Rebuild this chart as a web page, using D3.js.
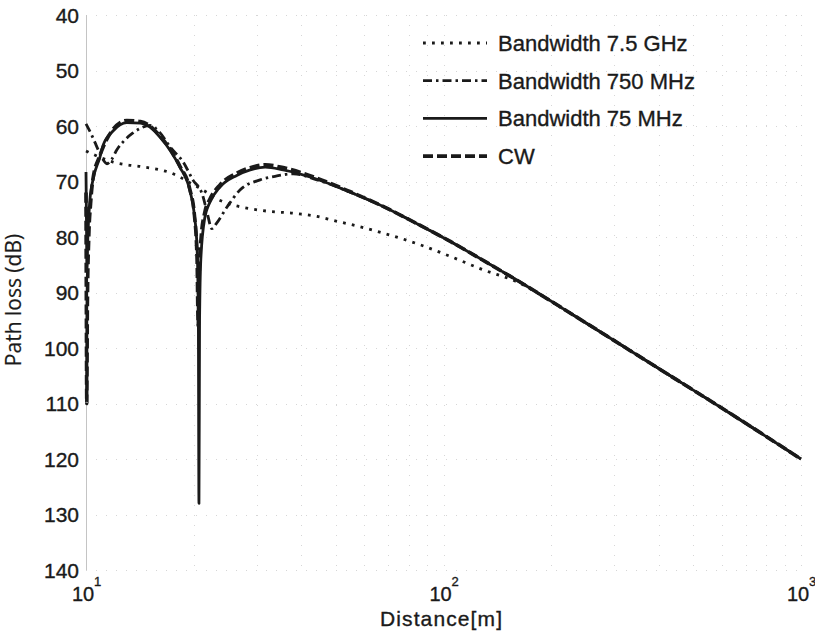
<!DOCTYPE html>
<html>
<head>
<meta charset="utf-8">
<script src="https://cdn.jsdelivr.net/npm/d3@7"></script>
<style>
  body { margin: 0; background: #fff; }
  svg { display: block; font-family: "Liberation Sans", Arial, sans-serif; }
  .lbl { fill: #1a1a1a; stroke: #1a1a1a; stroke-width: 0.35px; }
</style>
</head>
<body>
<div id="chart"></div>
<script>
// path loss vs distance, two-ray style curves for several bandwidths
const SERIES = ["Bandwidth 7.5 GHz", "Bandwidth 750 MHz", "Bandwidth 75 MHz", "CW"];
const Y_TICKS = [40, 50, 60, 70, 80, 90, 100, 110, 120, 130, 140];
const X_DECADES = [1, 2, 3];

const dist7g5 = [10, 10.9, 11.9, 13, 14.2, 16.1, 17.2, 18.3, 19.5, 20.8, 21.8, 23, 24.8, 28.8, 32.7, 37.9, 44.3, 49.1, 54.7, 67.8, 84.3, 104.5, 129, 160.6, 200, 230, 400, 600, 1000];
const loss7g5 = [64.5, 65.6, 66.5, 67, 67.3, 67.9, 68.4, 69.2, 70.2, 71.2, 72, 73, 73.9, 74.9, 75.4, 75.7, 76.3, 77, 77.7, 79.3, 81.2, 83.5, 85.9, 88.1, 91.6, 94.0, 103.7, 110.8, 120];

const dist750 = [10, 10.35, 10.6, 10.8, 11.1, 11.45, 11.8, 12.2, 12.85, 13.5, 14.2, 15.1, 16.1, 17.2, 18.7, 19.9, 21.2, 21.8, 22.5, 23.2, 24.8, 27, 30.7, 34.2, 38, 44.3, 54.7, 67.8, 84.3, 104.5, 129, 160.6, 230, 400, 600, 1000];
const loss750 = [59.6, 61.5, 63, 64.2, 65.8, 66.8, 66, 64.3, 62.5, 61.3, 60.4, 59.9, 61.2, 63.8, 66.5, 69.7, 72.5, 75.5, 78.5, 77.5, 74.6, 71.5, 69.7, 69, 68.6, 69.7, 71.9, 74.5, 77.6, 80.8, 84.2, 87.8, 94.0, 103.7, 110.8, 120];

const dist75 = [10, 10.03, 10.06, 10.12, 10.25, 10.46, 10.94, 11.16, 11.9, 13, 14.2, 15.1, 16.1, 17.2, 18.3, 19.5, 20.1, 20.45, 20.62, 20.7, 20.78, 20.95, 21.5, 22.2, 23.7, 26.4, 28.8, 31.7, 35.6, 44.3, 54.7, 67.8, 84.3, 104.5, 129, 160.6, 230, 400, 600, 1000];
const loss75 = [68.3, 77, 86, 80, 73.5, 69.7, 65.6, 63.5, 60.9, 59.4, 59.5, 60.2, 62, 64.4, 67.4, 71.5, 76, 82, 95, 128, 95, 84, 76.5, 73.8, 71, 68.9, 67.9, 67.4, 67.9, 69.6, 71.9, 74.5, 77.6, 80.8, 84.2, 87.8, 94.0, 103.7, 110.8, 120];

const distCW = [10, 10.02, 10.05, 10.09, 10.18, 10.3, 10.46, 10.94, 11.9, 13, 14.2, 15.1, 16.1, 17.2, 18.3, 19.5, 20.1, 20.45, 20.6, 20.75, 21, 21.5, 22.2, 23.7, 26.4, 28.8, 31.7, 35.6, 44.3, 54.7, 67.8, 84.3, 104.5, 129, 160.6, 230, 400, 600, 1000];
const lossCW = [72, 90, 110, 92, 80, 74, 69.5, 65.3, 60.6, 59, 59.2, 60, 61.8, 64.2, 67.2, 71.3, 76, 84, 96, 86, 80, 75.5, 73.2, 70.6, 68.5, 67.5, 67, 67.5, 69.4, 71.8, 74.5, 77.6, 80.8, 84.2, 87.8, 94.0, 103.7, 110.8, 120];

(function() {
    const totalW = 815, totalH = 632;
    const left = 86, right = 801, top = 15, bottom = 570;

    const svg = d3.select("#chart").append("svg")
        .attr("width", totalW).attr("height", totalH);

    const x = d3.scaleLog().domain([10, 1000]).range([left, right]);
    const y = d3.scaleLinear().domain([40, 140]).range([top, bottom]);

    // very faint dotted grid, minor lines on the log axis too
    const minor = [];
    X_DECADES.slice(0, 2).forEach(e => d3.range(1, 10).forEach(m => minor.push(m * Math.pow(10, e))));
    minor.push(1000);
    const grid = svg.append("g").attr("stroke", "#d6d6d6").attr("stroke-width", 1)
        .attr("stroke-dasharray", "1,9").attr("fill", "none");
    grid.selectAll(".vg").data(minor).enter().append("line")
        .attr("x1", d => Math.round(x(d)) + 0.5).attr("x2", d => Math.round(x(d)) + 0.5)
        .attr("y1", top).attr("y2", bottom);
    grid.selectAll(".hg").data(Y_TICKS).enter().append("line")
        .attr("x1", left).attr("x2", right)
        .attr("y1", d => Math.round(y(d)) + 0.5).attr("y2", d => Math.round(y(d)) + 0.5);

    svg.append("line").attr("x1", left + 0.5).attr("x2", left + 0.5).attr("y1", top).attr("y2", bottom)
        .attr("stroke", "#c4c4c4").attr("stroke-width", 1);

    svg.append("defs").append("clipPath").attr("id", "plot-clip")
        .append("rect").attr("x", left - 2).attr("y", top).attr("width", right - left + 4).attr("height", bottom - top);

    const styles = [
        { dist: dist7g5, loss: loss7g5, dash: "2.8,6.2", width: 2.8 },
        { dist: dist750, loss: loss750, dash: "9,4,2.5,4", width: 2.8 },
        { dist: dist75,  loss: loss75,  dash: null,       width: 2.8 },
        { dist: distCW,  loss: lossCW,  dash: "10,4",     width: 3.6 }
    ];

    const line = d3.line().x(d => x(d[0])).y(d => y(d[1])).curve(d3.curveMonotoneX);

    const plot = svg.append("g").attr("clip-path", "url(#plot-clip)");
    styles.forEach(s => {
        plot.append("path")
            .datum(s.dist.map((d, i) => [d, s.loss[i]]))
            .attr("fill", "none").attr("stroke", "#1a1a1a")
            .attr("stroke-width", s.width)
            .attr("stroke-linejoin", "round")
            .attr("stroke-dasharray", s.dash);
    });
    plot.selectAll("path").attr("d", line);

    // y tick labels
    svg.append("g").selectAll("text").data(Y_TICKS).enter().append("text")
        .attr("class", "lbl")
        .attr("x", 79).attr("y", d => y(d)).attr("dy", "0.36em")
        .attr("text-anchor", "end").style("font-size", "21px")
        .text(d => d);

    // x tick labels as 10^n
    const xl = svg.append("g");
    X_DECADES.forEach(e => {
        const px = x(Math.pow(10, e));
        xl.append("text").attr("class", "lbl").attr("x", px - 3).attr("y", 601).attr("text-anchor", "middle")
            .style("font-size", "20px").text("10");
        xl.append("text").attr("class", "lbl").attr("x", px + 8).attr("y", 586).attr("text-anchor", "start")
            .style("font-size", "13px").text(e);
    });

    svg.append("text").attr("class", "lbl").attr("x", 441).attr("y", 626).attr("text-anchor", "middle")
        .style("font-size", "21px").attr("textLength", 122).text("Distance[m]");

    svg.append("text").attr("class", "lbl").attr("transform", "translate(21,300) rotate(-90)")
        .attr("text-anchor", "middle").style("font-size", "21px")
        .style("font-family", "'Open Sans', sans-serif").style("stroke-width", "0.2px").text("Path loss (dB)");

    // legend
    const lg = svg.append("g");
    SERIES.forEach((name, i) => {
        const ly = 43 + i * 37.7, s = styles[i];
        lg.append("line").attr("x1", 423).attr("x2", 487).attr("y1", ly).attr("y2", ly)
            .attr("stroke", "#1a1a1a").attr("stroke-width", s.width).attr("stroke-dasharray", s.dash);
        lg.append("text").attr("class", "lbl").attr("x", 498).attr("y", ly).attr("dy", "0.36em")
            .style("font-size", "22px").text(name);
    });
})();
</script>
</body>
</html>
